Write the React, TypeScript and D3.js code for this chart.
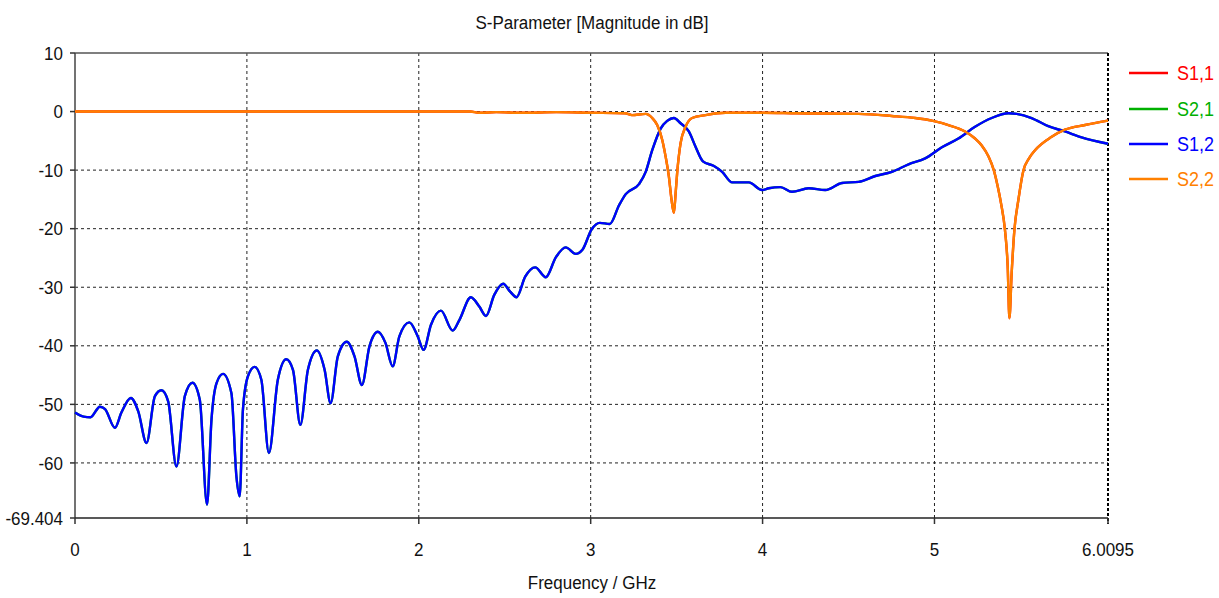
import React from "react";
import * as d3 from "d3";

const title = "S-Parameter [Magnitude in dB]";
const xLabel = "Frequency / GHz";
const xTicks = [0, 1, 2, 3, 4, 5, 6.0095];
const xTickLabels = ["0", "1", "2", "3", "4", "5", "6.0095"];
const yTicks = [10, 0, -10, -20, -30, -40, -50, -60, -69.404];
const yTickLabels = ["10", "0", "-10", "-20", "-30", "-40", "-50", "-60", "-69.404"];
const gridX = [1, 2, 3, 4, 5];
const gridY = [0, -10, -20, -30, -40, -50, -60];

const seriesNames = ["S1,1", "S2,1", "S1,2", "S2,2"];
const seriesColors = ["#ff0000", "#00b000", "#0000ff", "#ff8000"];

// S1,2 (blue)
const s12Freq = [0, 0.05, 0.09, 0.145, 0.175, 0.232, 0.27, 0.325, 0.368, 0.416, 0.465, 0.503, 0.542, 0.59, 0.639, 0.683, 0.726, 0.768, 0.794, 0.823, 0.861, 0.91, 0.939, 0.958, 0.977, 1.006, 1.045, 1.084, 1.128, 1.18, 1.229, 1.268, 1.311, 1.355, 1.407, 1.452, 1.487, 1.529, 1.581, 1.626, 1.669, 1.713, 1.762, 1.806, 1.848, 1.887, 1.945, 1.994, 2.028, 2.071, 2.129, 2.197, 2.236, 2.303, 2.352, 2.391, 2.439, 2.491, 2.53, 2.569, 2.619, 2.677, 2.739, 2.797, 2.855, 2.913, 2.952, 3.006, 3.053, 3.111, 3.165, 3.204, 3.281, 3.32, 3.358, 3.407, 3.445, 3.484, 3.523, 3.571, 3.61, 3.653, 3.717, 3.765, 3.823, 3.92, 3.997, 4.036, 4.104, 4.171, 4.268, 4.365, 4.462, 4.559, 4.656, 4.752, 4.849, 4.946, 5.043, 5.139, 5.236, 5.333, 5.43, 5.478, 5.565, 5.662, 5.759, 5.856, 6.0095];
const s12dB = [-51.4, -52.1, -52.2, -50.4, -50.8, -54.0, -51.4, -48.9, -51.2, -56.6, -48.6, -47.6, -49.5, -60.6, -48.6, -46.3, -49.2, -67.1, -52.6, -46.4, -44.8, -48.1, -62.3, -65.7, -50.9, -45.2, -43.6, -45.8, -58.3, -45.8, -42.3, -44.1, -53.5, -44.1, -40.8, -44.1, -49.8, -41.8, -39.3, -41.8, -46.7, -40.1, -37.6, -39.5, -43.5, -38.4, -36.0, -38.4, -40.7, -36.4, -34.0, -37.4, -35.6, -31.7, -33.3, -34.9, -31.3, -29.4, -30.7, -31.7, -28.2, -26.6, -28.3, -24.9, -23.2, -24.3, -23.6, -20.1, -19.0, -19.2, -16.0, -14.1, -12.4, -10.3, -6.6, -2.9, -1.6, -1.1, -2.0, -3.4, -6.0, -8.5, -9.3, -10.3, -12.1, -12.1, -13.4, -13.1, -12.9, -13.7, -13.1, -13.4, -12.2, -12.0, -11.0, -10.3, -9.0, -8.0, -6.1, -4.6, -2.6, -1.1, -0.3, -0.4, -1.1, -2.5, -3.4, -4.4, -5.5];

// S2,2 (orange)
const s22Freq = [0, 0.5, 1.0, 1.5, 2.0, 2.3, 2.35, 2.45, 2.6, 2.8, 3.0, 3.2, 3.24, 3.32, 3.358, 3.387, 3.416, 3.436, 3.455, 3.47, 3.484, 3.494, 3.503, 3.523, 3.552, 3.59, 3.668, 3.784, 4.0, 4.2, 4.559, 4.752, 4.888, 4.985, 5.081, 5.178, 5.236, 5.275, 5.313, 5.345, 5.368, 5.388, 5.41, 5.426, 5.436, 5.449, 5.465, 5.488, 5.517, 5.55, 5.585, 5.682, 5.759, 5.876, 6.0095];
const s22dB = [0, 0, 0, 0, 0, 0, -0.2, -0.1, -0.2, -0.1, -0.2, -0.3, -0.6, -0.4, -1.1, -2.3, -4.8, -7.7, -11.1, -15.0, -17.3, -14.0, -10.5, -5.4, -2.6, -1.1, -0.6, -0.2, -0.2, -0.3, -0.4, -0.75, -1.1, -1.55, -2.3, -3.4, -4.6, -5.8, -7.6, -10.0, -12.8, -15.8, -20.2, -26.5, -35.3, -27.6, -20.2, -15.1, -10.1, -8.0, -6.6, -4.3, -3.1, -2.3, -1.55];

// S1,1 / S2,1 are hidden beneath S2,2 / S1,2 in the reference
const s11Freq = s22Freq;
const s11dB = s22dB;
const s21Freq = s12Freq;
const s21dB = s12dB;

const W = 1219;
const H = 598;
const m = { left: 75, right: 1108, top: 53, bottom: 518 };
const FONT = "'Liberation Sans', Arial, sans-serif";

function stretch(yc: number, s: number) {
  return `translate(0 ${yc}) scale(1 ${s}) translate(0 ${-yc})`;
}

export default function App() {
  const x = d3.scaleLinear().domain([0, 6.0095]).range([m.left, m.right]);
  const y = d3.scaleLinear().domain([-69.404, 10]).range([m.bottom, m.top]);
  const line = d3
    .line<[number, number]>()
    .x((d) => x(d[0]))
    .y((d) => y(d[1]))
    .curve(d3.curveMonotoneX);
  const mk = (f: number[], v: number[]) => line(f.map((ff, i) => [ff, v[i]] as [number, number])) || "";
  const paths = [mk(s11Freq, s11dB), mk(s21Freq, s21dB), mk(s12Freq, s12dB), mk(s22Freq, s22dB)];
  const legendY = [73, 109, 144, 179];

  return (
    <svg width={W} height={H} style={{ position: "absolute", left: 0, top: 0, background: "#fff" }} fontFamily={FONT}>
      <rect x={0} y={0} width={W} height={H} fill="#fff" />
      {/* grid */}
      {gridX.map((g) => (
        <line key={"gx" + g} x1={x(g)} x2={x(g)} y1={m.top} y2={m.bottom} stroke="#222" strokeWidth={1} strokeDasharray="3,3" />
      ))}
      {gridY.map((g) => (
        <line key={"gy" + g} x1={m.left} x2={m.right} y1={y(g)} y2={y(g)} stroke="#222" strokeWidth={1} strokeDasharray="3,3" />
      ))}
      {/* frame */}
      <line x1={m.left} x2={m.right} y1={m.top} y2={m.top} stroke="#555" strokeWidth={1.5} />
      <line x1={m.right} x2={m.right} y1={m.top} y2={m.bottom + 6} stroke="#000" strokeWidth={2} strokeDasharray="3,2" />
      <line x1={m.left} x2={m.left} y1={m.top} y2={m.bottom} stroke="#444" strokeWidth={1.5} />
      <line x1={m.left} x2={m.right} y1={m.bottom} y2={m.bottom} stroke="#222" strokeWidth={1.5} />
      {/* y ticks */}
      {yTicks.map((t, i) => (
        <g key={"yt" + i}>
          <line x1={m.left - 5} x2={m.left} y1={y(t)} y2={y(t)} stroke="#333" strokeWidth={1.5} />
          <text x={63} y={y(t)} dy="0.35em" textAnchor="end" fontSize={17} fill="#111" transform={stretch(y(t), 1.12)}>
            {yTickLabels[i]}
          </text>
        </g>
      ))}
      {/* x ticks */}
      {xTicks.map((t, i) => (
        <g key={"xt" + i}>
          <line x1={x(t)} x2={x(t)} y1={m.bottom} y2={m.bottom + 6} stroke="#333" strokeWidth={1.5} />
          <text x={x(t)} y={549} dy="0.35em" textAnchor="middle" fontSize={17} fill="#111" transform={stretch(549, 1.12)}>
            {xTickLabels[i]}
          </text>
        </g>
      ))}
      {/* curves */}
      {paths.map((p, i) => (
        <path key={"p" + i} d={p} fill="none" stroke={seriesColors[i]} strokeWidth={2.4} strokeLinejoin="round" />
      ))}
      {/* title & axis label */}
      <text x={592} y={22} dy="0.35em" textAnchor="middle" fontSize={17} fill="#111" transform={stretch(22, 1.12)}>
        {title}
      </text>
      <text x={592} y={582} dy="0.35em" textAnchor="middle" fontSize={17} fill="#111" transform={stretch(582, 1.12)}>
        {xLabel}
      </text>
      {/* legend */}
      {seriesNames.map((n, i) => (
        <g key={"lg" + i}>
          <line x1={1129} x2={1168} y1={legendY[i]} y2={legendY[i]} stroke={seriesColors[i]} strokeWidth={2.4} />
          <text x={1177} y={legendY[i]} dy="0.35em" fontSize={18} fill={seriesColors[i]} transform={stretch(legendY[i], 1.15)}>
            {n}
          </text>
        </g>
      ))}
    </svg>
  );
}
